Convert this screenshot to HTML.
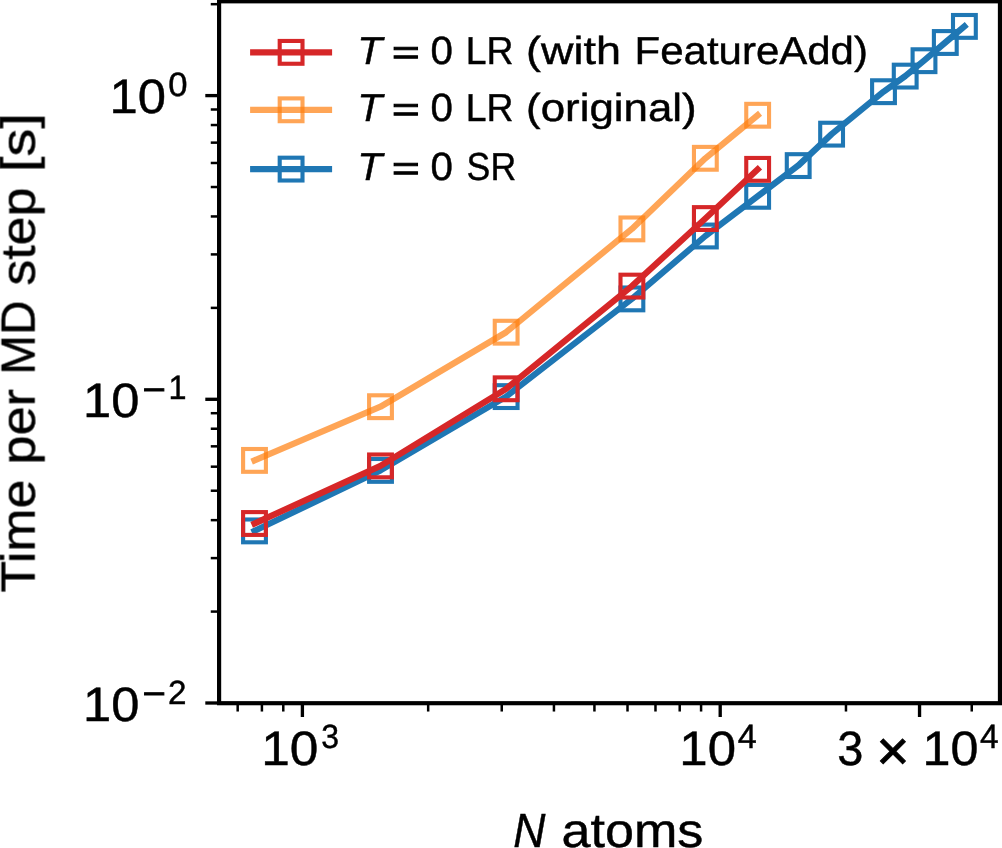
<!DOCTYPE html>
<html lang="en">
<head>
<meta charset="utf-8">
<title>Time per MD step vs N atoms</title>
<style>
html,body{margin:0;padding:0;background:#fff;}
body{width:1002px;height:848px;overflow:hidden;font-family:"Liberation Sans",sans-serif;}
svg{display:block;}
text{font-family:"Liberation Sans",sans-serif;white-space:pre;text-rendering:geometricPrecision;}
</style>
</head>
<body>
<svg width="1002" height="848" viewBox="0 0 1002 848">
<rect x="0" y="0" width="1002" height="848" fill="#fff"/>

<g stroke="#000" fill="none" stroke-linecap="butt">
<line x1="302.4" y1="703.2" x2="302.4" y2="717" stroke-width="3.33"/>
<line x1="720.2" y1="703.2" x2="720.2" y2="717" stroke-width="3.33"/>
<line x1="919.54" y1="703.2" x2="919.54" y2="717" stroke-width="3.33"/>
<line x1="237.68" y1="703.2" x2="237.68" y2="711.53" stroke-width="2.5"/>
<line x1="261.91" y1="703.2" x2="261.91" y2="711.53" stroke-width="2.5"/>
<line x1="283.28" y1="703.2" x2="283.28" y2="711.53" stroke-width="2.5"/>
<line x1="428.17" y1="703.2" x2="428.17" y2="711.53" stroke-width="2.5"/>
<line x1="501.74" y1="703.2" x2="501.74" y2="711.53" stroke-width="2.5"/>
<line x1="553.94" y1="703.2" x2="553.94" y2="711.53" stroke-width="2.5"/>
<line x1="594.43" y1="703.2" x2="594.43" y2="711.53" stroke-width="2.5"/>
<line x1="627.51" y1="703.2" x2="627.51" y2="711.53" stroke-width="2.5"/>
<line x1="655.48" y1="703.2" x2="655.48" y2="711.53" stroke-width="2.5"/>
<line x1="679.71" y1="703.2" x2="679.71" y2="711.53" stroke-width="2.5"/>
<line x1="701.08" y1="703.2" x2="701.08" y2="711.53" stroke-width="2.5"/>
<line x1="845.97" y1="703.2" x2="845.97" y2="711.53" stroke-width="2.5"/>
<line x1="971.74" y1="703.2" x2="971.74" y2="711.53" stroke-width="2.5"/>
<line x1="219.1" y1="95.6" x2="205.3" y2="95.6" stroke-width="3.33"/>
<line x1="219.1" y1="399.3" x2="205.3" y2="399.3" stroke-width="3.33"/>
<line x1="219.1" y1="703" x2="205.3" y2="703" stroke-width="3.33"/>
<line x1="219.1" y1="611.58" x2="210.77" y2="611.58" stroke-width="2.5"/>
<line x1="219.1" y1="558.1" x2="210.77" y2="558.1" stroke-width="2.5"/>
<line x1="219.1" y1="520.15" x2="210.77" y2="520.15" stroke-width="2.5"/>
<line x1="219.1" y1="490.72" x2="210.77" y2="490.72" stroke-width="2.5"/>
<line x1="219.1" y1="466.68" x2="210.77" y2="466.68" stroke-width="2.5"/>
<line x1="219.1" y1="446.34" x2="210.77" y2="446.34" stroke-width="2.5"/>
<line x1="219.1" y1="428.73" x2="210.77" y2="428.73" stroke-width="2.5"/>
<line x1="219.1" y1="413.2" x2="210.77" y2="413.2" stroke-width="2.5"/>
<line x1="219.1" y1="307.88" x2="210.77" y2="307.88" stroke-width="2.5"/>
<line x1="219.1" y1="254.4" x2="210.77" y2="254.4" stroke-width="2.5"/>
<line x1="219.1" y1="216.45" x2="210.77" y2="216.45" stroke-width="2.5"/>
<line x1="219.1" y1="187.02" x2="210.77" y2="187.02" stroke-width="2.5"/>
<line x1="219.1" y1="162.98" x2="210.77" y2="162.98" stroke-width="2.5"/>
<line x1="219.1" y1="142.64" x2="210.77" y2="142.64" stroke-width="2.5"/>
<line x1="219.1" y1="125.03" x2="210.77" y2="125.03" stroke-width="2.5"/>
<line x1="219.1" y1="109.5" x2="210.77" y2="109.5" stroke-width="2.5"/>
<line x1="219.1" y1="4.18" x2="210.77" y2="4.18" stroke-width="2.5"/>
</g>
<g fill="none" stroke="#1f77b4">
<path d="M254.5 530.9 L380.5 470.4 L506.15 396.6 L631.9 298.9 L705.35 236 L757.65 196.3 L798.2 165.6 L831.6 134.15 L883.5 91.7 L905.2 76.1 L924 60.7 L945.3 42.5 L964.4 26.4" stroke-width="6.25" stroke-linecap="square" stroke-linejoin="round"/>
<rect x="243.1" y="519.5" width="22.8" height="22.8" stroke-width="4.1"/>
<rect x="369.1" y="459" width="22.8" height="22.8" stroke-width="4.1"/>
<rect x="494.75" y="385.2" width="22.8" height="22.8" stroke-width="4.1"/>
<rect x="620.5" y="287.5" width="22.8" height="22.8" stroke-width="4.1"/>
<rect x="693.95" y="224.6" width="22.8" height="22.8" stroke-width="4.1"/>
<rect x="746.25" y="184.9" width="22.8" height="22.8" stroke-width="4.1"/>
<rect x="786.8" y="154.2" width="22.8" height="22.8" stroke-width="4.1"/>
<rect x="820.2" y="122.75" width="22.8" height="22.8" stroke-width="4.1"/>
<rect x="872.1" y="80.3" width="22.8" height="22.8" stroke-width="4.1"/>
<rect x="893.8" y="64.7" width="22.8" height="22.8" stroke-width="4.1"/>
<rect x="912.6" y="49.3" width="22.8" height="22.8" stroke-width="4.1"/>
<rect x="933.9" y="31.1" width="22.8" height="22.8" stroke-width="4.1"/>
<rect x="953" y="15" width="22.8" height="22.8" stroke-width="4.1"/>
</g>
<g fill="none" stroke="#ff7f0e">
<path d="M254.5 460.4 L380.5 406.7 L506.15 332.2 L631.9 228.9 L705.35 158.3 L757.65 115.25" stroke-width="6.25" stroke-linecap="square" stroke-linejoin="round" stroke-opacity="0.7"/>
<rect x="243.1" y="449" width="22.8" height="22.8" stroke-width="4.1" stroke-opacity="0.7"/>
<rect x="369.1" y="395.3" width="22.8" height="22.8" stroke-width="4.1" stroke-opacity="0.7"/>
<rect x="494.75" y="320.8" width="22.8" height="22.8" stroke-width="4.1" stroke-opacity="0.7"/>
<rect x="620.5" y="217.5" width="22.8" height="22.8" stroke-width="4.1" stroke-opacity="0.7"/>
<rect x="693.95" y="146.9" width="22.8" height="22.8" stroke-width="4.1" stroke-opacity="0.7"/>
<rect x="746.25" y="103.85" width="22.8" height="22.8" stroke-width="4.1" stroke-opacity="0.7"/>
</g>
<g fill="none" stroke="#d62728">
<path d="M254.5 523.5 L380.5 465.9 L506.15 388.8 L631.9 286.1 L705.35 218.55 L757.65 169.35" stroke-width="6.25" stroke-linecap="square" stroke-linejoin="round"/>
<rect x="243.1" y="512.1" width="22.8" height="22.8" stroke-width="4.1"/>
<rect x="369.1" y="454.5" width="22.8" height="22.8" stroke-width="4.1"/>
<rect x="494.75" y="377.4" width="22.8" height="22.8" stroke-width="4.1"/>
<rect x="620.5" y="274.7" width="22.8" height="22.8" stroke-width="4.1"/>
<rect x="693.95" y="207.15" width="22.8" height="22.8" stroke-width="4.1"/>
<rect x="746.25" y="157.95" width="22.8" height="22.8" stroke-width="4.1"/>
</g>
<g fill="none" stroke="#d62728"><line x1="250.1" y1="52.35" x2="332.1" y2="52.35" stroke-width="6.25"/><rect x="279.7" y="40.95" width="22.8" height="22.8" stroke-width="4.1"/></g>
<g fill="none" stroke="#ff7f0e" stroke-opacity="0.7"><line x1="250.1" y1="109.8" x2="332.1" y2="109.8" stroke-width="6.25"/><rect x="279.7" y="98.4" width="22.8" height="22.8" stroke-width="4.1"/></g>
<g fill="none" stroke="#1f77b4"><line x1="250.1" y1="169.1" x2="332.1" y2="169.1" stroke-width="6.25"/><rect x="279.7" y="157.7" width="22.8" height="22.8" stroke-width="4.1"/></g>
<rect x="219.1" y="1.3" width="780.85" height="701.9" fill="none" stroke="#000" stroke-width="4.17" stroke-linejoin="miter"/>
<g style="filter:grayscale(1)">
<text font-family="Liberation Sans, sans-serif" fill="#000" stroke="#000" stroke-width="0.45" stroke-linejoin="miter" ><tspan x="109.42" y="113.1" font-size="48.2" textLength="56.45" lengthAdjust="spacingAndGlyphs">10</tspan><tspan x="168.24" y="95.9" font-size="33.7" textLength="19.26" lengthAdjust="spacingAndGlyphs">0</tspan></text>
<text font-family="Liberation Sans, sans-serif" fill="#000" stroke="#000" stroke-width="0.45" stroke-linejoin="miter" ><tspan x="83.03" y="417.1" font-size="48.2" textLength="56.34" lengthAdjust="spacingAndGlyphs">10</tspan><tspan x="142.4" y="400.5" font-size="33.7" textLength="23.36" lengthAdjust="spacingAndGlyphs" stroke-width="0.8">−</tspan><tspan x="168.39" y="399.4" font-size="33.7" textLength="18.04" lengthAdjust="spacingAndGlyphs">1</tspan></text>
<text font-family="Liberation Sans, sans-serif" fill="#000" stroke="#000" stroke-width="0.45" stroke-linejoin="miter" ><tspan x="83.03" y="721.4" font-size="48.2" textLength="56.34" lengthAdjust="spacingAndGlyphs">10</tspan><tspan x="142.4" y="704.6" font-size="33.7" textLength="23.36" lengthAdjust="spacingAndGlyphs" stroke-width="0.8">−</tspan><tspan x="167.96" y="703.7" font-size="33.7" textLength="18.52" lengthAdjust="spacingAndGlyphs">2</tspan></text>
<text font-family="Liberation Sans, sans-serif" fill="#000" stroke="#000" stroke-width="0.45" stroke-linejoin="miter" ><tspan x="261.27" y="765.2" font-size="48.2" textLength="57.23" lengthAdjust="spacingAndGlyphs">10</tspan><tspan x="321.14" y="748.1" font-size="33.7" textLength="17.81" lengthAdjust="spacingAndGlyphs">3</tspan></text>
<text font-family="Liberation Sans, sans-serif" fill="#000" stroke="#000" stroke-width="0.45" stroke-linejoin="miter" ><tspan x="679.3" y="765.2" font-size="48.2" textLength="56.67" lengthAdjust="spacingAndGlyphs">10</tspan><tspan x="737.77" y="747.7" font-size="33.7" textLength="18.97" lengthAdjust="spacingAndGlyphs">4</tspan></text>
<text font-family="Liberation Sans, sans-serif" fill="#000" stroke="#000" stroke-width="0.45" stroke-linejoin="miter" ><tspan x="837.25" y="765.2" font-size="48.2" textLength="26.09" lengthAdjust="spacingAndGlyphs">3</tspan> <tspan x="876.47" y="769.5" font-size="56" textLength="32.81" lengthAdjust="spacingAndGlyphs" stroke-width="1.0">×</tspan> <tspan x="922.56" y="765.2" font-size="48.2" textLength="55.9" lengthAdjust="spacingAndGlyphs">10</tspan><tspan x="980.09" y="747.7" font-size="33.7" textLength="18.63" lengthAdjust="spacingAndGlyphs">4</tspan></text>
<text font-family="Liberation Sans, sans-serif" fill="#000" stroke="#000" stroke-width="0.45" stroke-linejoin="miter" ><tspan x="513.19" y="847" font-size="48" textLength="32.18" lengthAdjust="spacingAndGlyphs" font-style="italic">N</tspan> <tspan x="561.58" y="847" font-size="48" textLength="141.78" lengthAdjust="spacingAndGlyphs">atoms</tspan></text>
<text font-family="Liberation Sans, sans-serif" fill="#000" stroke="#000" stroke-width="0.45" stroke-linejoin="miter" transform="translate(34.6 591.6) rotate(-90)"><tspan x="-1.07" y="0" font-size="48" textLength="112.97" lengthAdjust="spacingAndGlyphs">Time</tspan> <tspan x="127.12" y="0" font-size="48" textLength="75.65" lengthAdjust="spacingAndGlyphs">per</tspan> <tspan x="217.12" y="0" font-size="48" textLength="73.94" lengthAdjust="spacingAndGlyphs">MD</tspan> <tspan x="306.07" y="0" font-size="48" textLength="97.88" lengthAdjust="spacingAndGlyphs">step</tspan> <tspan x="419.4" y="0" font-size="48" textLength="59.13" lengthAdjust="spacingAndGlyphs">[s]</tspan></text>
<text font-family="Liberation Sans, sans-serif" fill="#000" stroke="#000" stroke-width="0.45" stroke-linejoin="miter" ><tspan x="357.34" y="64" font-size="39" textLength="25.01" lengthAdjust="spacingAndGlyphs" font-style="italic">T</tspan> <tspan x="392.13" y="64.4" font-size="34" textLength="27.69" lengthAdjust="spacingAndGlyphs" stroke-width="1.0">=</tspan> <tspan x="430.41" y="64" font-size="39.39" textLength="22.42" lengthAdjust="spacingAndGlyphs">0</tspan> <tspan x="465.74" y="64" font-size="39" textLength="47.74" lengthAdjust="spacingAndGlyphs">LR</tspan> <tspan x="526.13" y="64" font-size="39" textLength="94.82" lengthAdjust="spacingAndGlyphs">(with</tspan> <tspan x="634.57" y="64" font-size="39" textLength="233.38" lengthAdjust="spacingAndGlyphs">FeatureAdd)</tspan></text>
<text font-family="Liberation Sans, sans-serif" fill="#000" stroke="#000" stroke-width="0.45" stroke-linejoin="miter" ><tspan x="357.34" y="120.6" font-size="39" textLength="25.01" lengthAdjust="spacingAndGlyphs" font-style="italic">T</tspan> <tspan x="392.13" y="121" font-size="34" textLength="27.69" lengthAdjust="spacingAndGlyphs" stroke-width="1.0">=</tspan> <tspan x="430.41" y="120.6" font-size="39.39" textLength="22.42" lengthAdjust="spacingAndGlyphs">0</tspan> <tspan x="465.74" y="120.6" font-size="39" textLength="47.74" lengthAdjust="spacingAndGlyphs">LR</tspan> <tspan x="526.09" y="120.6" font-size="39" textLength="170.62" lengthAdjust="spacingAndGlyphs">(original)</tspan></text>
<text font-family="Liberation Sans, sans-serif" fill="#000" stroke="#000" stroke-width="0.45" stroke-linejoin="miter" ><tspan x="357.34" y="179.8" font-size="39" textLength="25.01" lengthAdjust="spacingAndGlyphs" font-style="italic">T</tspan> <tspan x="392.13" y="180.2" font-size="34" textLength="27.69" lengthAdjust="spacingAndGlyphs" stroke-width="1.0">=</tspan> <tspan x="430.41" y="179.8" font-size="39.39" textLength="22.42" lengthAdjust="spacingAndGlyphs">0</tspan> <tspan x="466.62" y="179.8" font-size="39" textLength="49.51" lengthAdjust="spacingAndGlyphs">SR</tspan></text>
</g>
</svg>
</body>
</html>
